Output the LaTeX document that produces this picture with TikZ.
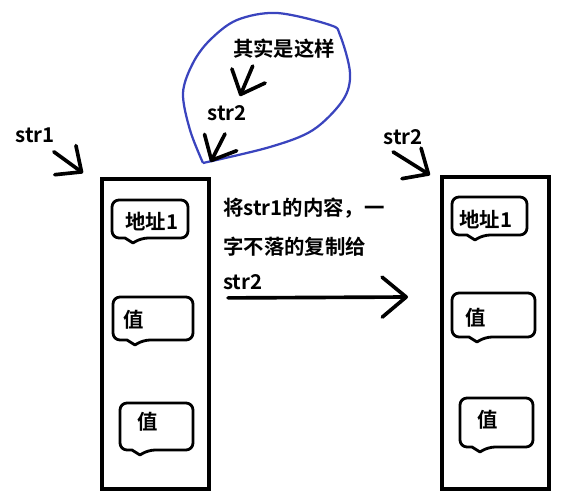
\documentclass[tikz,border=0pt]{standalone}
\usepackage{fontspec}
\setmainfont{Noto Sans CJK SC}[BoldFont={Noto Sans CJK SC Bold}]
\usetikzlibrary{arrows.meta,calc,positioning}
\definecolor{penblue}{RGB}{58,68,190}
\tikzset{
  frame/.style     = {draw, line width=2.6pt, inner sep=0pt},
  bubble/.style    = {line width=2pt, rounded corners=5pt, line join=round},
  txt/.style       = {font=\bfseries\fontsize{14.5}{17}\selectfont, inner sep=0pt},
  handarrow/.style = {line width=2.6pt, line cap=round,
                      -{Straight Barb[length=5mm,width=9mm,round]}},
  bigarrow/.style  = {line width=2.6pt, line cap=round,
                      -{Straight Barb[length=6mm,width=10mm,round]}},
  blob/.style      = {line width=1.6pt, penblue, line join=round},
}
% callout outline: x1, y1, x2, y2, tail x
\newcommand{\callout}[5]{%
  \draw[bubble] (#1,#2) -- (#3,#2) -- (#3,#4) -- (#5+8,#4)
    [sharp corners] -- (#5,#4+5) -- (#5-8,#4) [rounded corners=5pt] -- (#1,#4) -- cycle;
}
\begin{document}
\begin{tikzpicture}[x=0.025cm,y=-0.025cm]
  \useasboundingbox (0,0) rectangle (580,500);

  % the two strings
  \node[frame, minimum width=107*0.025cm, minimum height=310*0.025cm, anchor=north west] (lbox) at (100,177) {};
  \node[frame, minimum width=107*0.025cm, minimum height=312*0.025cm, anchor=north west] (rbox) at (440,175) {};

  % cells of str1
  \callout{112}{200}{188}{238}{133}
  \node[txt, anchor=west] (laddr) at (125,222) {地址1};
  \callout{113}{297}{193}{340}{135}
  \node[txt, anchor=west] (lval1) at (123,320) {值};
  \callout{120}{403}{193}{450}{140}
  \node[txt, anchor=west] (lval2) at (137,422) {值};

  % cells of str2
  \callout{452}{197}{527}{235}{475}
  \node[txt, anchor=west] (raddr) at (459,220) {地址1};
  \callout{452}{293}{535}{337}{477}
  \node[txt, anchor=west] (rval1) at (465,318) {值};
  \callout{460}{398}{533}{447}{480}
  \node[txt, anchor=west] (rval2) at (477,420) {值};

  % pointers
  \node[txt] (str1) at (35,135) {str1};
  \draw[handarrow] ($(str1.south east)+(-1,9)$) -- ($(lbox.north west)+(-17,-4)$);
  \node[txt] (str2r) at (403,137) {str2};
  \draw[handarrow] ($(str2r.south west)+(10,7)$) -- ($(rbox.north west)+(-10,0)$);

  % what really happens
  \draw[blob] plot[smooth, tension=0.55] coordinates {
    (203,163) (190,130) (183,93) (193,63) (210,40) (237,20) (277,13)
    (330,25) (340,35) (350,73) (343,100) (313,130) (270,147) (203,163)};
  \node[txt] (real) at (284,49) {其实是这样};
  \node[txt] (str2b) at (227,113) {str2};
  \draw[handarrow] ($(real.south west)+(20,7)$) -- ($(str2b.north)+(13,-9)$);
  \draw[handarrow] ($(str2b.south)+(-2,13)$) -- ($(lbox.north east)+(0,-15)$);

  % copy
  \node[txt, anchor=west] (copy1) at (223,208) {将str1的内容，一};
  \node[txt, anchor=west] (copy2) at (223,247) {字不落的复制给};
  \node[txt, anchor=west] (copy3) at (223,282) {str2};
  \coordinate (copyto) at (408,297);
  \draw[bigarrow] ($(copy3.south west)+(5,8)$) -- (copyto);
\end{tikzpicture}
\end{document}
